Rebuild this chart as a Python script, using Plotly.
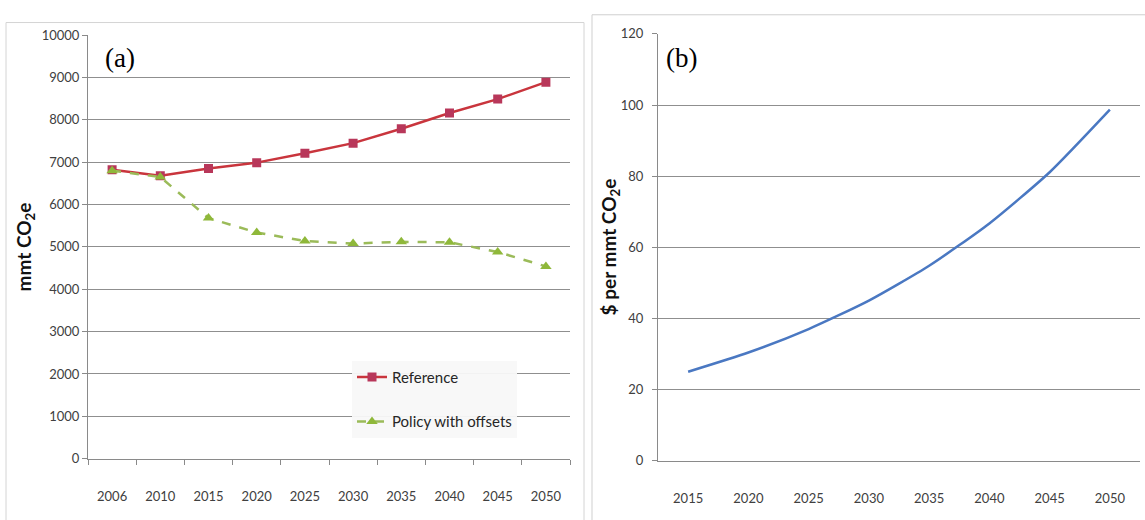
import plotly.graph_objects as go

# Panel (a): emissions, mmt CO2e
years_a = ["2006", "2010", "2015", "2020", "2025", "2030", "2035", "2040", "2045", "2050"]
reference = [6820, 6680, 6850, 6990, 7210, 7450, 7790, 8160, 8490, 8890]
policy_offsets = [6800, 6650, 5680, 5340, 5140, 5080, 5120, 5110, 4880, 4540]

# Panel (b): allowance price, $ per mmt CO2e
years_b = ["2015", "2020", "2025", "2030", "2035", "2040", "2045", "2050"]
price = [25.0, 30.4, 37.0, 45.0, 54.8, 66.7, 81.1, 98.7]

W, H = 1145, 520
TICK_FONT = dict(family="Lato, 'Liberation Sans', sans-serif", size=13, color="#404040")
GRID = "#8f8f8f"
AXIS = "#8a8a8a"


def px_x(v):
    return v / W


def px_y(v):
    return 1 - v / H


fig = go.Figure()

fig.add_trace(go.Scatter(
    x=years_a, y=reference, name="Reference", mode="lines+markers",
    line=dict(color="#c9353d", width=2.5),
    marker=dict(symbol="square", size=9, color="#b8375a", line=dict(width=0)),
    xaxis="x", yaxis="y", legendgroup="ref",
))
fig.add_trace(go.Scatter(
    x=years_a, y=policy_offsets, name="Policy with offsets", mode="lines+markers",
    line=dict(color="#9bbb59", width=2.5, dash="dash"),
    marker=dict(symbol="triangle-up", size=10, color="#8fb83a", line=dict(width=0)),
    xaxis="x", yaxis="y", legendgroup="pol",
))
fig.add_trace(go.Scatter(
    x=years_b, y=price, name="Price", mode="lines",
    line=dict(color="#4a78c2", width=2.5, shape="spline", smoothing=0.6),
    xaxis="x2", yaxis="y2", showlegend=False,
))

common_x = dict(
    type="category", showgrid=False, showline=True, linecolor=AXIS, linewidth=1,
    tickfont=TICK_FONT, zeroline=False, fixedrange=True,
)
common_y = dict(
    showgrid=True, gridcolor=GRID, gridwidth=1, showline=True, linecolor=AXIS,
    linewidth=1, ticks="outside", ticklen=5, tickcolor=AXIS, tickfont=TICK_FONT,
    tickformat="d", zeroline=False, fixedrange=True,
)

fig.update_layout(
    width=W, height=H,
    margin=dict(l=0, r=0, t=0, b=0),
    paper_bgcolor="white", plot_bgcolor="white",
    xaxis=dict(domain=[px_x(88), px_x(570)], anchor="y", range=[-0.5, len(years_a) - 0.5],
               ticks="outside", ticklen=5, tickcolor=AXIS, tickson="boundaries",
               ticklabelstandoff=26, **common_x),
    yaxis=dict(domain=[px_y(465), px_y(28)], anchor="x", range=[0, 10000],
               dtick=1000, **common_y),
    xaxis2=dict(domain=[px_x(658), px_x(1140)], anchor="y2", range=[-0.5, len(years_b) - 0.5],
                ticks="", ticklabelstandoff=26, **common_x),
    yaxis2=dict(domain=[px_y(467), px_y(26.7)], anchor="x2", range=[0, 120],
                dtick=20, ticklabelstandoff=6, **common_y),
    legend=dict(
        x=px_x(352), y=px_y(364), xanchor="left", yanchor="top",
        bgcolor="rgba(248,248,248,0.95)", borderwidth=0,
        font=dict(family="Lato, 'Liberation Sans', sans-serif", size=15, color="#262626"),
        traceorder="grouped", tracegroupgap=22,
    ),
    showlegend=True,
)

# Panel frames
fig.add_shape(type="rect", xref="paper", yref="paper",
              x0=px_x(6), x1=px_x(584), y0=px_y(530), y1=px_y(15),
              line=dict(color="#d4d4d4", width=1), fillcolor="rgba(0,0,0,0)", layer="below")
fig.add_shape(type="rect", xref="paper", yref="paper",
              x0=px_x(592), x1=px_x(1150), y0=px_y(530), y1=px_y(7),
              line=dict(color="#cfcfcf", width=1), fillcolor="rgba(0,0,0,0)", layer="below")

TITLE_FONT = dict(family="Lato, 'Open Sans', sans-serif", size=19, color="#111111")
fig.add_annotation(text="<b>mmt CO<sub>2</sub>e</b>", xref="paper", yref="paper",
                   x=px_x(25), y=px_y(247), textangle=-90, showarrow=False,
                   font=TITLE_FONT, xanchor="center", yanchor="middle")
fig.add_annotation(text="<b>$ per mmt CO<sub>2</sub>e</b>", xref="paper", yref="paper",
                   x=px_x(610), y=px_y(247), textangle=-90, showarrow=False,
                   font=TITLE_FONT, xanchor="center", yanchor="middle")

PANEL_FONT = dict(family="'Liberation Serif', 'DejaVu Serif', serif", size=27, color="#000000")
fig.add_annotation(text="(a)", xref="paper", yref="paper", x=px_x(103), y=px_y(52),
                   showarrow=False, font=PANEL_FONT, xanchor="left", yanchor="middle")
fig.add_annotation(text="(b)", xref="paper", yref="paper", x=px_x(664), y=px_y(52),
                   showarrow=False, font=PANEL_FONT, xanchor="left", yanchor="middle")

fig.write_html("out.html")
